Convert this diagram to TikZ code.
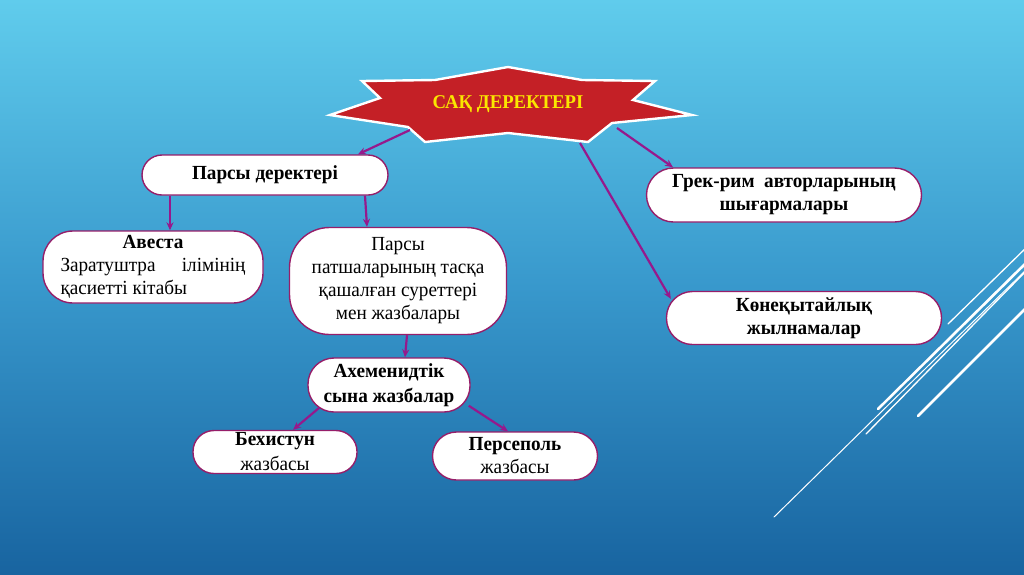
\documentclass[tikz,border=0pt]{standalone}
\usepackage{fontspec}
\setmainfont{Liberation Serif}[FakeStretch=0.96]
\usetikzlibrary{arrows.meta,calc}
\definecolor{bgtop}{RGB}{96,204,236}
\definecolor{bgmid}{RGB}{56,152,204}
\definecolor{bgbot}{RGB}{24,100,160}
\definecolor{arrcol}{RGB}{150,25,140}
\definecolor{boxline}{RGB}{150,30,105}
\definecolor{starred}{RGB}{196,32,38}
\definecolor{titleyellow}{RGB}{250,230,0}
\tikzset{
  box/.style={draw=boxline, line width=1.4pt, fill=white, align=center,
    font=\fontsize{20}{23}\selectfont, inner sep=0pt},
  arr/.style={draw=arrcol, line width=2.2pt, -{Stealth[length=8pt,width=7pt]}},
  deco/.style={draw=white, line cap=round},
}
\begin{document}
\begin{tikzpicture}[x=1pt,y=-1pt]
\useasboundingbox (0,0) rectangle (1024,574);
\shade[top color=bgtop, bottom color=bgbot, middle color=bgmid] (0,0) rectangle (1024,574);
% decorative white lines
\draw[deco, line width=1.3pt] (948,324) -- (1030,244);
\draw[deco, line width=2.6pt] (878,409) -- (1030,259);
\draw[deco, line width=1.3pt] (866,434) -- (1030,267);
\draw[deco, line width=2.6pt] (918,416) -- (1030,304);
\draw[deco, line width=1.0pt] (774,517) -- (1030,266);
% star
\fill[starred, draw=white, line width=2.4pt, line join=miter]
  (508,67) -- (582,80) -- (655,81) -- (633,100) -- (692,115) -- (612,123)
  -- (588,142) -- (508,133) -- (425,142) -- (408,127) -- (330,115)
  -- (380,98) -- (362,81) -- (435,80) -- cycle;
\node[font=\bfseries\fontsize{19.5}{22}\selectfont, text=titleyellow] (star) at (508,104) {САҚ ДЕРЕКТЕРІ};
\coordinate (sA) at (410,130);
\coordinate (sB) at (617,128);
\coordinate (sC) at (580,143);
% nodes
\node[box, minimum width=246pt, minimum height=40pt, rounded corners=20pt, font=\bfseries\fontsize{20}{23}\selectfont] (parsy) at (265,175) {Парсы деректері};
\node[box, minimum width=220pt, minimum height=72pt, rounded corners=30pt, align=left] (avesta) at (153,267)
  {\makebox[185pt][c]{\textbf{Авеста}}\\\makebox[185pt][s]{Заратуштра\hfill ілімінің}\\қасиетті кітабы\hspace*{50pt}};
\node[box, minimum width=217pt, minimum height=107pt, rounded corners=40pt] (patsha) at (398,281)
  {Парсы\\патшаларының тасқа\\қашалған суреттері\\мен жазбалары};
\node[box, minimum width=162pt, minimum height=54pt, rounded corners=26pt, font=\bfseries\fontsize{20}{25}\selectfont] (ahem) at (389,385)
  {Ахеменидтік\\сына жазбалар};
\node[box, minimum width=164pt, minimum height=43pt, rounded corners=21pt, font=\fontsize{20}{25}\selectfont] (behis) at (275,452)
  {\textbf{Бехистун}\\жазбасы};
\node[box, minimum width=165pt, minimum height=48pt, rounded corners=24pt, font=\fontsize{20}{23}\selectfont] (pers) at (515,456)
  {\textbf{Персеполь}\\жазбасы};
\node[box, minimum width=275pt, minimum height=54pt, rounded corners=27pt, font=\bfseries\fontsize{20}{23}\selectfont] (grek) at (784,195)
  {Грек-рим\ \ авторларының\\шығармалары};
\node[box, minimum width=275pt, minimum height=53pt, rounded corners=26pt, font=\bfseries\fontsize{20}{23}\selectfont] (kone) at (804,318)
  {Көнеқытайлық\\жылнамалар};
% arrows
\draw[arr] (sA) -- ([xshift=93pt]parsy.north);
\draw[arr] (sB) -- ([xshift=-111pt]grek.north);
\draw[arr] (sC) -- ([xshift=5pt,yshift=-8pt]kone.north west);
\draw[arr] ([xshift=-95pt]parsy.south) -- ([xshift=-95pt]parsy.south |- avesta.north);
\draw[arr] ([xshift=100pt]parsy.south) -- ([xshift=-31pt]patsha.north);
\draw[arr] ([xshift=9pt]patsha.south) -- ([xshift=16pt]ahem.north);
\draw[arr] ([xshift=12pt,yshift=5pt]ahem.south west) -- ([xshift=18pt]behis.north);
\draw[arr] ([xshift=-2pt,yshift=7pt]ahem.south east) -- ([xshift=-7pt]pers.north);
\end{tikzpicture}
\end{document}
